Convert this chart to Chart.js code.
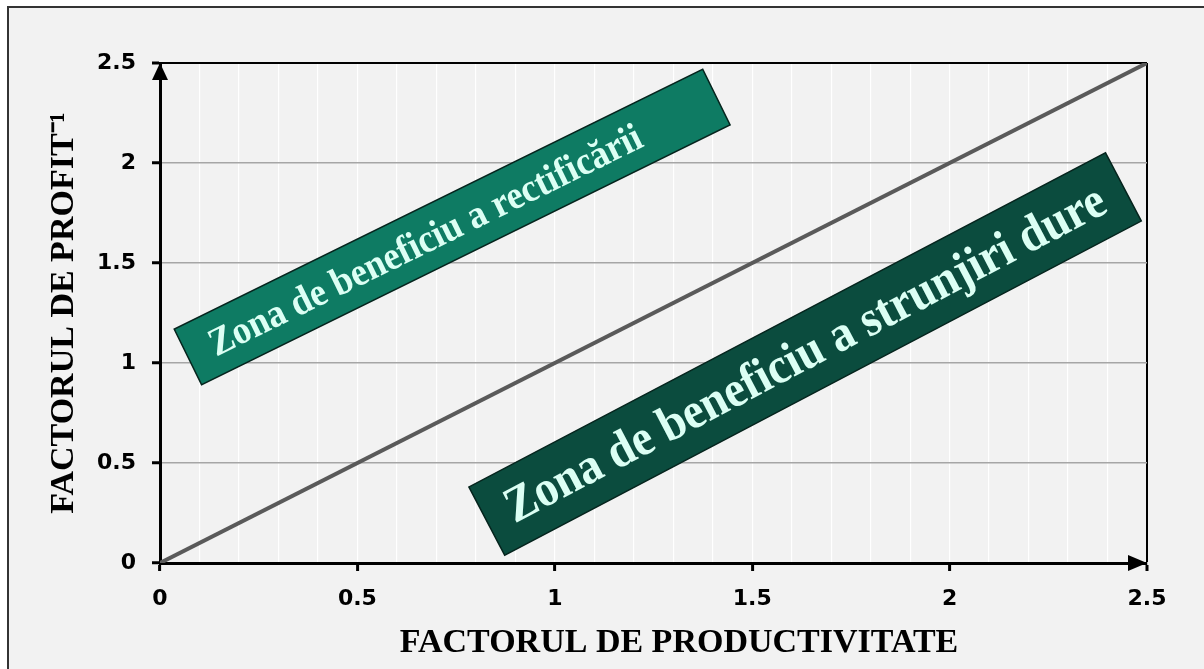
<!DOCTYPE html>
<html>
<head>
<meta charset="utf-8">
<script src="https://cdn.jsdelivr.net/npm/chart.js@4.4.1/dist/chart.umd.min.js"></script>
<style>
  html, body { margin: 0; padding: 0; background: #ffffff; }
  #wrap { width: 1204px; height: 669px; position: relative; }
</style>
</head>
<body>
<div id="wrap"><canvas id="profitChart" width="1204" height="669"></canvas></div>
<script>
// Break-even line (profit factor^-1 = productivity factor)
const lineX = [0, 2.5];
const lineY = [0, 2.5];

// Axis labels
const axisTicks = [0, 0.5, 1, 1.5, 2, 2.5];
const xTitle = 'FACTORUL DE PRODUCTIVITATE';
const yTitle = 'FACTORUL DE PROFIT\u207B\u00B9';

// Zone labels, anchored in data coordinates (centre of each banner)
const zoneLabels = ['Zona de beneficiu a rectificării', 'Zona de beneficiu a strunjiri dure'];
const zoneX = [0.74, 1.634];
const zoneY = [1.68, 1.045];

// banner looks (pixels / degrees)
const zoneStyles = [
    { angle: 26.2, w: 589, h: 62, fill: '#0e7b63', textW: 478, textShift: -30 },
    { angle: 27.7, w: 719, h: 77, fill: '#0b4c3e', textW: 672, textShift: 0 }
];
const textCondense = 0.92;

const isMajor = v => axisTicks.some(t => Math.abs(t - v) < 1e-6);

// frame + light background like the original picture
const framePlugin = {
    id: 'frame',
    beforeDraw(chart) {
        const ctx = chart.ctx;
        ctx.save();
        ctx.fillStyle = '#ffffff';
        ctx.fillRect(0, 0, chart.width, chart.height);
        ctx.fillStyle = '#f2f2f2';
        ctx.fillRect(9, 8, chart.width - 9, chart.height - 8);
        ctx.strokeStyle = '#333333';
        ctx.lineWidth = 2;
        ctx.beginPath();
        ctx.moveTo(8, chart.height);
        ctx.lineTo(8, 7);
        ctx.lineTo(chart.width, 7);
        ctx.stroke();
        ctx.restore();
    }
};

// arrow heads on the two axes
const arrowPlugin = {
    id: 'arrows',
    afterDraw(chart) {
        const ctx = chart.ctx;
        const xs = chart.scales.x, ys = chart.scales.y;
        const x0 = xs.getPixelForValue(0), y0 = ys.getPixelForValue(0);
        const xEnd = xs.getPixelForValue(2.5), yEnd = ys.getPixelForValue(2.5);
        ctx.save();
        ctx.fillStyle = '#000000';
        ctx.beginPath();
        ctx.moveTo(x0, yEnd);
        ctx.lineTo(x0 - 8, yEnd + 17);
        ctx.lineTo(x0 + 8, yEnd + 17);
        ctx.closePath();
        ctx.fill();
        ctx.beginPath();
        ctx.moveTo(xEnd, y0);
        ctx.lineTo(xEnd - 19, y0 - 8);
        ctx.lineTo(xEnd - 19, y0 + 8);
        ctx.closePath();
        ctx.fill();
        ctx.restore();
    }
};

// rotated green banners with the zone names
const zonePlugin = {
    id: 'zones',
    afterDatasetsDraw(chart) {
        const ctx = chart.ctx;
        const xs = chart.scales.x, ys = chart.scales.y;
        zoneLabels.forEach((label, i) => {
            const st = zoneStyles[i];
            const cx = xs.getPixelForValue(zoneX[i]);
            const cy = ys.getPixelForValue(zoneY[i]);
            ctx.save();
            ctx.translate(cx, cy);
            ctx.rotate(-st.angle * Math.PI / 180);
            ctx.fillStyle = st.fill;
            ctx.fillRect(-st.w / 2, -st.h / 2, st.w, st.h);
            ctx.strokeStyle = '#05241d';
            ctx.lineWidth = 1.5;
            ctx.strokeRect(-st.w / 2, -st.h / 2, st.w, st.h);
            // fit the font to the wanted text length, slightly condensed like the source
            ctx.font = 'bold 40px "Liberation Serif", "Times New Roman", serif';
            const size = 40 * (st.textW / textCondense) / ctx.measureText(label).width;
            ctx.font = 'bold ' + size.toFixed(1) + 'px "Liberation Serif", "Times New Roman", serif';
            ctx.fillStyle = '#dcfff4';
            ctx.textAlign = 'center';
            ctx.textBaseline = 'middle';
            ctx.translate(st.textShift, 2);
            ctx.scale(textCondense, 1);
            ctx.fillText(label, 0, 0);
            ctx.restore();
        });
    }
};

const tickFont = { family: '"DejaVu Sans", sans-serif', size: 22, weight: 'bold' };
const titleFont = { family: '"Liberation Serif", "Times New Roman", serif', size: 34, weight: 'bold' };

const ctx = document.getElementById('profitChart');
window.profitChart = new Chart(ctx, {
    type: 'scatter',
    data: {
        datasets: [{
            label: 'Echilibru',
            data: lineX.map((x, i) => ({ x: x, y: lineY[i] })),
            showLine: true,
            borderColor: '#5a5a5a',
            borderWidth: 4,
            pointRadius: 0,
            fill: false
        }]
    },
    options: {
        responsive: false,
        animation: false,
        layout: { padding: { top: 63, right: 57, left: 0, bottom: 0 } },
        plugins: {
            legend: { display: false },
            tooltip: { enabled: false }
        },
        scales: {
            x: {
                type: 'linear',
                min: 0,
                max: 2.5,
                afterFit(scale) { scale.height = 106; },
                border: { display: true, color: '#000000', width: 3 },
                grid: {
                    color: c => Math.abs(c.tick.value - 2.5) < 1e-6 ? '#000000' : '#ffffff',
                    lineWidth: c => Math.abs(c.tick.value - 2.5) < 1e-6 ? 2 : 1.2,
                    tickColor: c => isMajor(c.tick.value) ? '#000000' : 'rgba(0,0,0,0)',
                    tickLength: 8,
                    tickWidth: 3
                },
                ticks: {
                    stepSize: 0.1,
                    autoSkip: false,
                    maxRotation: 0,
                    padding: 15,
                    color: '#000000',
                    font: tickFont,
                    callback: v => isMajor(v) ? String(Math.round(v * 10) / 10) : ''
                },
                title: {
                    display: true,
                    text: '      ' + xTitle,
                    color: '#000000',
                    font: titleFont,
                    padding: { top: 0, bottom: 5 }
                }
            },
            y: {
                type: 'linear',
                min: 0,
                max: 2.5,
                afterFit(scale) { scale.width = 160; },
                border: { display: true, color: '#000000', width: 3 },
                grid: {
                    color: c => Math.abs(c.tick.value - 2.5) < 1e-6 ? '#000000' : '#a6a6a6',
                    lineWidth: c => Math.abs(c.tick.value - 2.5) < 1e-6 ? 2 : 1.5,
                    tickColor: '#000000',
                    tickLength: 8,
                    tickWidth: 3
                },
                ticks: {
                    stepSize: 0.5,
                    padding: 16,
                    color: '#000000',
                    font: tickFont,
                    callback: v => String(v)
                },
                title: {
                    display: true,
                    text: yTitle,
                    color: '#000000',
                    font: titleFont,
                    padding: { top: 44, bottom: 0 }
                }
            }
        }
    },
    plugins: [framePlugin, zonePlugin, arrowPlugin]
});
</script>
</body>
</html>
